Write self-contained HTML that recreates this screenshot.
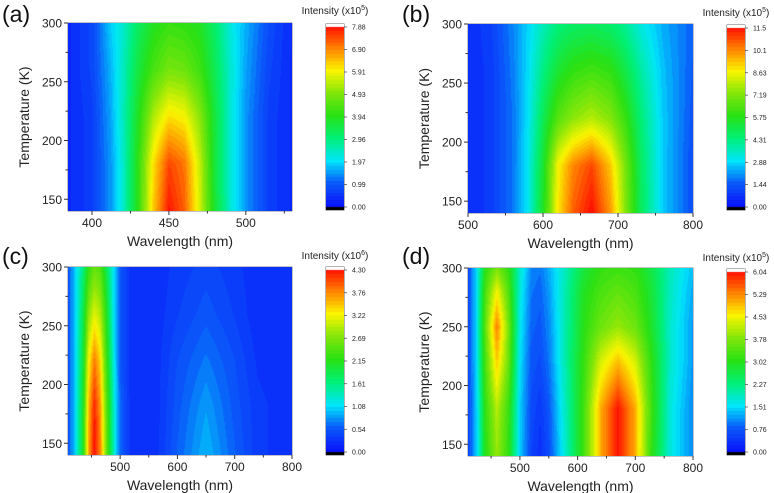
<!DOCTYPE html>
<html><head><meta charset="utf-8"><style>
body{margin:0;background:#fff;width:774px;height:493px;overflow:hidden;position:relative;font-family:"Liberation Sans",sans-serif}
canvas{position:absolute}
svg{position:absolute;left:0;top:0}
</style></head><body>
<svg id="ov" width="774" height="493"></svg>
<script>
const tempsA=[140,180,220,260,300];
const wlA=[385,400,412,420,430,440,450,460,470,480,490,500,515,530];
const valsA=[
[0.3,0.6,1.4,2.3,4.0,6.3,7.8,7.2,5.6,3.6,2.3,1.4,0.6,0.3],
[0.3,0.6,1.4,2.3,4.0,6.1,7.4,7.0,5.5,3.5,2.3,1.4,0.6,0.3],
[0.3,0.6,1.5,2.4,3.8,5.3,6.1,5.9,5.0,3.5,2.3,1.4,0.6,0.3],
[0.3,0.7,1.6,2.4,3.5,4.3,4.8,4.7,4.2,3.3,2.3,1.5,0.7,0.3],
[0.3,0.7,1.8,2.3,3.2,3.8,4.1,4.0,3.8,3.1,2.2,1.6,0.8,0.3]];
const cbA=["0.00","0.99","1.97","2.96","3.94","4.93","5.91","6.90","7.88"];
const tempsB=[140,180,220,260,300];
const wlB=[500,530,560,580,600,620,640,665,690,710,730,760,800];
const valsB=[
[0.5,0.8,1.7,3.0,5.5,8.8,10.5,11.5,9.8,7.2,4.8,2.6,1.2],
[0.5,0.8,1.7,3.0,5.3,8.6,10.0,10.8,9.2,7.0,4.7,2.6,1.2],
[0.5,0.8,1.7,2.9,4.8,6.5,7.3,7.8,7.2,6.0,4.4,2.6,1.3],
[0.5,0.8,1.8,2.8,4.2,5.3,5.9,6.2,5.9,5.0,3.9,2.5,1.4],
[0.5,0.9,1.9,2.7,3.6,4.3,4.6,4.7,4.5,4.0,3.2,2.3,1.5]];
const cbB=["0.00","1.44","2.88","4.31","5.75","7.19","8.63","10.1","11.5"];
const tempsC=[140,180,220,260,300];
const wlC=[409,420,435,445,455,465,475,490,500,520,560,600,650,700,740,800];
const valsC=[
[0.5,0.9,2.0,3.6,4.3,3.8,2.7,1.2,0.6,0.2,0.2,0.55,0.9,0.55,0.3,0.2],
[0.5,0.9,2.0,3.5,4.2,3.7,2.6,1.2,0.6,0.2,0.2,0.5,0.8,0.5,0.3,0.2],
[0.5,0.9,1.9,3.2,3.8,3.4,2.4,1.1,0.5,0.2,0.2,0.45,0.65,0.45,0.25,0.2],
[0.5,0.9,1.8,2.7,3.1,2.9,2.2,1.0,0.5,0.2,0.2,0.35,0.5,0.35,0.2,0.2],
[0.5,0.9,1.6,2.2,2.5,2.4,1.9,1.0,0.5,0.2,0.2,0.3,0.4,0.3,0.2,0.2]];
const cbC=["0.00","0.54","1.08","1.61","2.15","2.69","3.22","3.76","4.30"];
const tempsD=[140,180,220,250,280,300];
const wlD=[410,425,440,460,480,500,520,535,550,580,610,640,670,700,730,760,800];
const valsD=[
[0.5,1.4,3.0,3.9,3.1,1.4,0.5,0.3,0.6,1.8,3.2,5.0,6.0,5.0,3.0,1.7,1.0],
[0.5,1.4,3.1,4.1,3.2,1.4,0.6,0.4,0.7,1.9,3.2,5.0,6.0,5.0,3.1,1.7,1.0],
[0.5,1.5,3.3,4.8,3.6,1.5,0.7,0.6,0.9,2.0,3.1,4.3,4.9,4.3,3.0,1.8,1.1],
[0.5,1.5,3.5,5.3,3.7,1.6,0.8,0.7,1.0,2.0,3.0,3.6,3.9,3.6,2.8,1.8,1.1],
[0.5,1.5,3.3,4.5,3.4,1.7,0.9,0.8,1.1,2.0,2.9,3.3,3.5,3.3,2.7,1.85,1.2],
[0.5,1.5,3.0,3.7,3.1,1.8,1.0,0.9,1.2,1.9,2.7,3.1,3.2,3.1,2.6,1.9,1.3]];
const cbD=["0.00","0.76","1.51","2.27","3.02","3.78","4.53","5.29","6.04"];

const panels=[
 {id:'a',wl:wlA,t:tempsA,v:valsA,cb:cbA,exp:'5',p:{x:68,y:23,w:224,h:188},xr:[384.4,530],xt:[400,450,500],xm:[425,475,525],c:{x:326,y:24,w:18,h:186},lab:[2,22],tt:[335,14]},
 {id:'b',wl:wlB,t:tempsB,v:valsB,cb:cbB,exp:'5',p:{x:468,y:24,w:225,h:189},xr:[500,800],xt:[500,600,700,800],xm:[550,650,750],c:{x:727,y:25,w:18,h:185},lab:[402,22],tt:[736,16]},
 {id:'c',wl:wlC,t:tempsC,v:valsC,cb:cbC,exp:'6',p:{x:68,y:267,w:224,h:188},xr:[409,800],xt:[500,600,700,800],xm:[450,550,650,750],c:{x:326,y:267,w:18,h:188},lab:[2,264],tt:[335,259]},
 {id:'d',wl:wlD,t:tempsD,v:valsD,cb:cbD,exp:'5',p:{x:468,y:268,w:225,h:188},xr:[410,800],xt:[500,600,700,800],xm:[450,550,650,750],c:{x:727,y:269,w:18,h:186},lab:[402,264],tt:[736,261]}
];
const stops=[[0,[10,20,250]],[0.125,[10,90,250]],[0.25,[0,230,250]],[0.375,[0,240,120]],[0.5,[40,225,20]],[0.625,[130,230,10]],[0.75,[250,245,0]],[0.875,[255,130,0]],[1,[255,10,0]]];
function cmap(f){f=Math.max(0,Math.min(1,f));for(let i=1;i<stops.length;i++){if(f<=stops[i][0]){const a=stops[i-1],b=stops[i],u=(f-a[0])/(b[0]-a[0]);return a[1].map((c,k)=>Math.round(c+(b[1][k]-c)*u));}}return stops[stops.length-1][1];}
function interp(arr,x){let i=0;while(i<arr.length-2&&x>arr[i+1])i++;let u=(x-arr[i])/(arr[i+1]-arr[i]);return [i,Math.max(0,Math.min(1,u))];}
const NS='http://www.w3.org/2000/svg';const ov=document.getElementById('ov');
function el(tag,attrs,txt){const e=document.createElementNS(NS,tag);for(const k in attrs)e.setAttribute(k,attrs[k]);if(txt!==undefined)e.textContent=txt;ov.appendChild(e);return e;}
panels.forEach(P=>{
 const p=P.p,vmax=parseFloat(P.cb[8]);
 const cv=document.createElement('canvas');cv.width=p.w;cv.height=p.h;cv.style.left=p.x+'px';cv.style.top=p.y+'px';
 
 
 document.body.appendChild(cv);
 const ctx=cv.getContext('2d');const img=ctx.createImageData(p.w,p.h);
 for(let py=0;py<p.h;py++){const T=300-(py+0.5)/p.h*160;const [ti,tu]=interp(P.t,T);
  for(let px=0;px<p.w;px++){const W=P.xr[0]+(px+0.5)/p.w*(P.xr[1]-P.xr[0]);const [wi,wu]=interp(P.wl,W);
   const a=P.v[ti][wi],b=P.v[ti][wi+1],c=P.v[ti+1][wi],d=P.v[ti+1][wi+1];
   let val=(a*(1-wu)+b*wu)*(1-tu)+(c*(1-wu)+d*wu)*tu;
   let f=val/vmax;f=Math.floor(f*48)/48+0.01;
   const col=cmap(f);const o=(py*p.w+px)*4;img.data[o]=col[0];img.data[o+1]=col[1];img.data[o+2]=col[2];img.data[o+3]=255;}}
 ctx.putImageData(img,0,0);
 const c=P.c;const cc=document.createElement('canvas');cc.width=c.w;cc.height=c.h;cc.style.left=c.x+'px';cc.style.top=c.y+'px';
 
 
 document.body.appendChild(cc);const x2=cc.getContext('2d');
 for(let y=0;y<c.h;y++){let f;if(y<3){x2.fillStyle='#fff';}else if(y>=c.h-3){x2.fillStyle='#000';}else{f=1-(y-3)/(c.h-6);f=Math.floor(f*48)/48;const col=cmap(f);x2.fillStyle='rgb('+col+')';}x2.fillRect(0,y,c.w,1);}
 el('rect',{x:c.x,y:c.y,width:c.w,height:c.h,fill:'none',stroke:'#444','stroke-width':0.8});
 P.cb.forEach((s,i)=>{const y=c.y+c.h-3-i*(c.h-6)/8;const t=el('text',{x:c.x+c.w+8,y:y+2.5,'font-size':7,fill:'#222'},s);
  
  el('line',{x1:c.x+c.w,x2:c.x+c.w+3,y1:y,y2:y,stroke:'#444','stroke-width':0.7});});
 const tt=el('text',{x:P.tt[0],y:P.tt[1],'font-size':10,'text-anchor':'middle',fill:'#222'});
 
 tt.innerHTML='Intensity (x10<tspan dy="-4" font-size="7">'+P.exp+'</tspan><tspan dy="4">)</tspan>';
 el('rect',{x:p.x,y:p.y,width:p.w,height:p.h,fill:'none',stroke:'#334','stroke-width':0.6});
 const sx=w=>p.x+(w-P.xr[0])/(P.xr[1]-P.xr[0])*p.w, sy=T=>p.y+(300-T)/160*p.h;
 P.xt.forEach(w=>{const x=sx(w);el('line',{x1:x,x2:x,y1:p.y+p.h,y2:p.y+p.h+4,stroke:'#333'});
  const t=el('text',{x:x,y:p.y+p.h+16,'font-size':12,'text-anchor':'middle',fill:'#222'},w);});
 P.xm.forEach(w=>{const x=sx(w);el('line',{x1:x,x2:x,y1:p.y+p.h,y2:p.y+p.h+2.5,stroke:'#333'});});
 [150,200,250,300].forEach(T=>{const y=sy(T);el('line',{x1:p.x-4,x2:p.x,y1:y,y2:y,stroke:'#333'});
  const t=el('text',{x:p.x-6,y:y+4.5,'font-size':12,'text-anchor':'end',fill:'#222'},T);});
 [175,225,275].forEach(T=>{const y=sy(T);el('line',{x1:p.x-2.5,x2:p.x,y1:y,y2:y,stroke:'#333'});});
 const xt=el('text',{x:p.x+p.w/2,y:p.y+p.h+35,'font-size':14,'text-anchor':'middle',fill:'#222'},'Wavelength (nm)');
 
 const cy=p.y+p.h/2, cx=p.x-39;
 const yt=el('text',{x:cx,y:cy,'font-size':14,'text-anchor':'middle',transform:'rotate(-90 '+cx+' '+cy+')',fill:'#222'},'Temperature (K)');
 
 const lb=el('text',{x:P.lab[0],y:P.lab[1],'font-size':23,fill:'#111'},'('+P.id+')');
 
});
</script>
</body></html>
